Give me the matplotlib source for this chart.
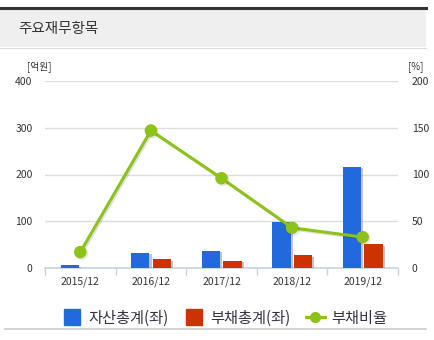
import matplotlib.pyplot as plt
import matplotlib.patheffects as pe
from matplotlib.patches import Rectangle
from matplotlib.lines import Line2D
import numpy as np

plt.rcParams['font.family'] = ['Noto Sans CJK KR', 'DejaVu Sans']

years = ['2015/12', '2016/12', '2017/12', '2018/12', '2019/12']
assets = [6, 32, 37, 99, 217]
debts = [0, 19, 16, 27, 51]
debt_ratio = [17, 147, 96, 43, 33]

blue = '#2169dc'
red = '#cc3300'
green = '#8cc21a'
txt = '#333333'

W, H = 435, 340
fig = plt.figure(figsize=(W / 100, H / 100), dpi=100)

# header band
fig.patches.append(Rectangle((0, 1 - 47 / H), 426 / W, 39 / H, transform=fig.transFigure,
                             facecolor='#efefef', edgecolor='none', zorder=0))
fig.add_artist(Line2D([0, 426 / W], [1 - 7.5 / H] * 2, color='#333333', lw=2.2))
fig.add_artist(Line2D([0, 426 / W], [1 - 47.5 / H] * 2, color='#dddddd', lw=0.8))
fig.add_artist(Line2D([5 / W, 426 / W], [1 - 329 / H] * 2, color='#cccccc', lw=1.2))
fig.text(18 / W, 1 - 29 / H, '주요재무항목', fontsize=10.5, color=txt, va='center', ha='left')

ax = fig.add_axes([45 / W, 1 - 268 / H, 353 / W, 187 / H])
ax2 = ax.twinx()

x = np.arange(len(years))
bw = 0.26
shadow = [pe.SimplePatchShadow(offset=(1.5, -1), shadow_rgbFace='#888888', alpha=0.5), pe.Normal()]
ax.bar(x - 0.15, assets, bw, color=blue, zorder=3, path_effects=shadow)
ax.bar(x + 0.155, debts, bw, color=red, zorder=3, path_effects=shadow)

ax.set_xlim(-0.5, len(years) - 0.5)
ax.set_ylim(0, 400)
ax.set_yticks([0, 100, 200, 300, 400])
ax.grid(axis='y', color='#dddddd', lw=1, zorder=0)
ax.set_axisbelow(True)

for s in ['top', 'right', 'left']:
    ax.spines[s].set_visible(False)
    ax2.spines[s].set_visible(False)
ax2.spines['bottom'].set_visible(False)
ax.spines['bottom'].set_color('#c5d3e2')
ax.spines['bottom'].set_linewidth(1.2)

ax.set_xticks(x)
ax.set_xticklabels(years, fontsize=7.5, color=txt)
ax.tick_params(axis='x', length=0, pad=6)
ax.set_xticks(np.arange(-0.5, len(years)), minor=True)
ax.tick_params(axis='x', which='minor', length=5, color='#c5d3e2', width=1)
ax.tick_params(axis='y', length=0, labelsize=7.5, labelcolor=txt, pad=9)

ax2.plot(x, debt_ratio, color=green, lw=2.2, marker='o', ms=8, zorder=5,
         path_effects=[pe.SimpleLineShadow(offset=(1, -1), alpha=0.12), pe.Normal()])
ax2.set_ylim(0, 200)
ax2.set_yticks([0, 50, 100, 150, 200])
ax2.tick_params(axis='y', length=0, labelsize=7.5, labelcolor=txt, pad=10)

fig.text(27 / W, 1 - 67 / H, '[억원]', fontsize=7, color=txt, va='center', ha='left')
fig.text(408 / W, 1 - 67 / H, '[%]', fontsize=7, color=txt, va='center', ha='left')

handles = [
    Line2D([], [], marker='s', color='none', markerfacecolor=blue, markeredgecolor=blue, ms=11),
    Line2D([], [], marker='s', color='none', markerfacecolor=red, markeredgecolor=red, ms=11),
    Line2D([], [], marker='o', color=green, lw=2.2, ms=7),
]
fig.legend(handles, ['자산총계(좌)', '부채총계(좌)', '부채비율'], loc='center',
           bbox_to_anchor=(225 / W, 1 - 318 / H), ncol=3, frameon=False, fontsize=11,
           labelcolor='#333344', handlelength=1.3, handletextpad=0.4, columnspacing=1.0)

fig.savefig('out.png', dpi=100)
